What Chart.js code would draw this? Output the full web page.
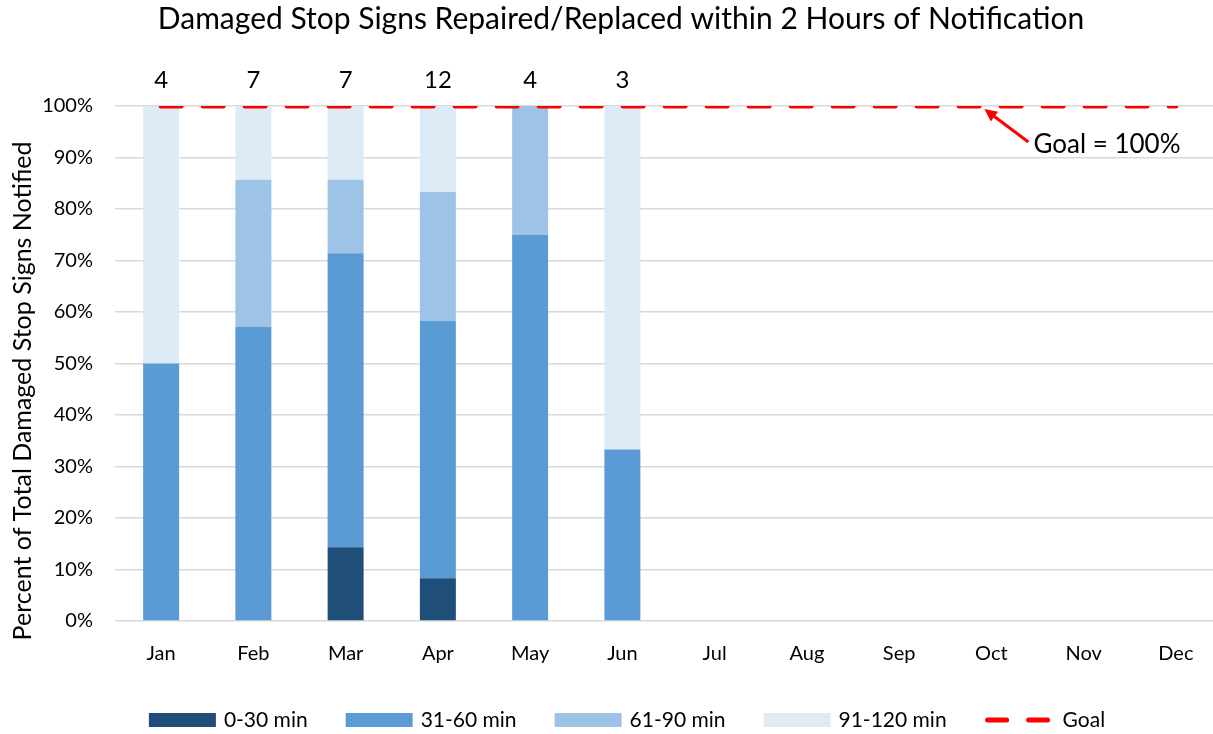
<!DOCTYPE html>
<html>
<head>
<meta charset="utf-8">
<script src="https://cdn.jsdelivr.net/npm/chart.js@4/dist/chart.umd.min.js"></script>
<style>
  html, body { margin: 0; padding: 0; background: #fff; overflow: hidden; }
  #wrap { width: 1222px; height: 734px; }
</style>
</head>
<body>
<div id="wrap"><canvas id="stopChart" width="1222" height="734"></canvas></div>
<script>
// === DATA ===
const months = ["Jan", "Feb", "Mar", "Apr", "May", "Jun", "Jul", "Aug", "Sep", "Oct", "Nov", "Dec"];
const signCounts = [4, 7, 7, 12, 4, 3];
const min0to30 = [0, 0, 14.3, 8.3, 0, 0];
const min31to60 = [50, 57.1, 57.1, 50, 75, 33.3];
const min61to90 = [0, 28.6, 14.3, 25, 25, 0];
const min91to120 = [50, 14.3, 14.3, 16.7, 0, 66.7];
const goal = [100, 100, 100, 100, 100, 100, 100, 100, 100, 100, 100, 100];

const FONT = "Lato, Calibri, sans-serif";
const colors = ["#1F4E79", "#5B9BD5", "#9DC3E6", "#DDEBF7"];

// === TEXT, LABELS, LEGEND ===
const extras = {
  id: "extras",
  afterDraw(chart) {
    const { ctx, scales } = chart;
    const x = scales.x, y = scales.y;
    ctx.save();
    ctx.fillStyle = "#000";

    // title
    ctx.font = "30px " + FONT;
    ctx.textAlign = "center";
    ctx.textBaseline = "middle";
    ctx.fillText("Damaged Stop Signs Repaired/Replaced within 2 Hours of Notification", 621, 19);

    // y axis title (Excel centres it a bit lower than the plot area)
    ctx.save();
    ctx.translate(23, 391);
    ctx.rotate(-Math.PI / 2);
    ctx.font = "25px " + FONT;
    ctx.fillText("Percent of Total Damaged Stop Signs Notified", 0, 0);
    ctx.restore();

    // counts above bars
    ctx.font = "24px " + FONT;
    signCounts.forEach((c, i) => {
      ctx.fillText(String(c), x.getPixelForValue(i), y.getPixelForValue(100) - 26);
    });

    // goal annotation
    const tipX = x.getPixelForValue(9) - 7;
    const tipY = y.getPixelForValue(100) + 3;
    const tailX = tipX + 44, tailY = tipY + 33;
    ctx.strokeStyle = "#FF0000";
    ctx.fillStyle = "#FF0000";
    ctx.lineWidth = 3;
    ctx.beginPath();
    ctx.moveTo(tailX, tailY);
    ctx.lineTo(tipX + 8, tipY + 6);
    ctx.stroke();
    const ang = Math.atan2(tipY - tailY, tipX - tailX);
    ctx.beginPath();
    ctx.moveTo(tipX, tipY);
    ctx.lineTo(tipX - 14 * Math.cos(ang - 0.45), tipY - 14 * Math.sin(ang - 0.45));
    ctx.lineTo(tipX - 14 * Math.cos(ang + 0.45), tipY - 14 * Math.sin(ang + 0.45));
    ctx.closePath();
    ctx.fill();
    ctx.fillStyle = "#000";
    ctx.font = "26px " + FONT;
    ctx.textAlign = "left";
    ctx.fillText("Goal = 100%", tailX + 5, tailY + 3);

    // legend
    ctx.font = "21px " + FONT;
    const items = chart.data.datasets.map((d) => ({ label: d.label, color: d.borderColor || d.backgroundColor, line: d.type === "line" }));
    const boxW = 67, gap = 8, spacing = 38;
    let total = 0;
    items.forEach((it, i) => {
      total += boxW + (it.line ? 11 : gap) + ctx.measureText(it.label).width;
      if (i < items.length - 1) total += spacing;
    });
    let lx = 627 - total / 2;
    const ly = 720;
    items.forEach((it) => {
      if (it.line) {
        ctx.strokeStyle = it.color;
        ctx.lineWidth = 5;
        ctx.lineCap = "round";
        ctx.setLineDash([19, 22]);
        ctx.beginPath();
        ctx.moveTo(lx + 3, ly);
        ctx.lineTo(lx + boxW - 2, ly);
        ctx.stroke();
        ctx.setLineDash([]);
        ctx.fillStyle = "#000";
        ctx.fillText(it.label, lx + boxW + 11, ly);
        lx += boxW + 11 + ctx.measureText(it.label).width + spacing;
      } else {
        ctx.fillStyle = it.color;
        ctx.fillRect(lx, ly - 7, boxW, 14);
        ctx.fillStyle = "#000";
        ctx.fillText(it.label, lx + boxW + gap, ly);
        lx += boxW + gap + ctx.measureText(it.label).width + spacing;
      }
    });
    ctx.restore();
  },
};

const ctx = document.getElementById("stopChart").getContext("2d");
const stopChart = new Chart(ctx, {
  type: "bar",
  data: {
    labels: months,
    datasets: [
      { label: "0-30 min", data: min0to30, backgroundColor: colors[0], stack: "s" },
      { label: "31-60 min", data: min31to60, backgroundColor: colors[1], stack: "s" },
      { label: "61-90 min", data: min61to90, backgroundColor: colors[2], stack: "s" },
      { label: "91-120 min", data: min91to120, backgroundColor: colors[3], stack: "s" },
      {
        type: "line",
        label: "Goal",
        data: goal,
        borderColor: "#FF0000",
        borderWidth: 5,
        borderDash: [20, 22],
        borderCapStyle: "round",
        pointRadius: 0,
        fill: false,
        stack: "goal",
        order: -1,
      },
    ],
  },
  options: {
    responsive: false,
    animation: false,
    layout: { padding: { top: 106, left: 0, right: 0, bottom: 0 } },
    datasets: { bar: { barPercentage: 0.39, categoryPercentage: 1 } },
    scales: {
      x: {
        stacked: true,
        grid: { display: false, drawTicks: false },
        border: { display: false },
        ticks: { color: "#000", padding: 21, font: { family: FONT, size: 20 } },
        afterFit: (s) => { s.height = 113; },
      },
      y: {
        stacked: true,
        min: 0,
        max: 100,
        grid: { color: "#d9d9d9", lineWidth: 1.5, drawTicks: false },
        border: { display: false },
        ticks: {
          stepSize: 10,
          color: "#000",
          padding: 22,
          font: { family: FONT, size: 20 },
          callback: (v) => v + "%",
        },
        afterFit: (s) => { s.width = 115; },
      },
    },
    plugins: { legend: { display: false }, title: { display: false }, tooltip: { enabled: false } },
  },
  plugins: [extras],
});
</script>
</body>
</html>
